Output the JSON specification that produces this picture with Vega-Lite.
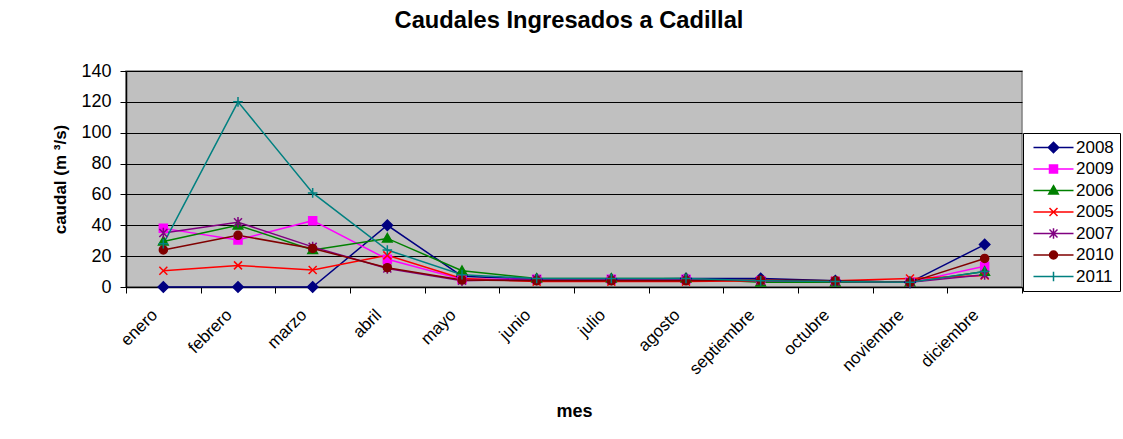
{
  "$schema": "https://vega.github.io/schema/vega-lite/v6.json",
  "autosize": "none",
  "width": 896,
  "height": 216,
  "padding": {"left": 126, "top": 71, "right": 101, "bottom": 152},
  "background": "white",
  "title": {"text": "Caudales Ingresados a Cadillal", "font": "Liberation Sans", "fontSize": 23.7, "fontWeight": "bold", "color": "black", "anchor": "middle", "baseline": "alphabetic", "offset": 10, "dx": -5},
  "config": {
    "font": "Liberation Sans",
    "view": {"fill": "#C0C0C0", "stroke": "#808080", "strokeWidth": 1.5},
    "axis": {"labelColor": "black", "titleColor": "black", "domainColor": "black", "tickColor": "black", "labelFont": "Liberation Sans", "titleFont": "Liberation Sans"}
  },
  "data": {"values": [
    {"mes": "enero", "year": "2008", "caudal": 0}, {"mes": "enero", "year": "2009", "caudal": 38}, {"mes": "enero", "year": "2006", "caudal": 29.5}, {"mes": "enero", "year": "2005", "caudal": 10.5}, {"mes": "enero", "year": "2007", "caudal": 35}, {"mes": "enero", "year": "2010", "caudal": 24}, {"mes": "enero", "year": "2011", "caudal": 28},
    {"mes": "febrero", "year": "2008", "caudal": 0}, {"mes": "febrero", "year": "2009", "caudal": 30.5}, {"mes": "febrero", "year": "2006", "caudal": 40}, {"mes": "febrero", "year": "2005", "caudal": 14}, {"mes": "febrero", "year": "2007", "caudal": 42}, {"mes": "febrero", "year": "2010", "caudal": 33.5}, {"mes": "febrero", "year": "2011", "caudal": 120},
    {"mes": "marzo", "year": "2008", "caudal": 0}, {"mes": "marzo", "year": "2009", "caudal": 43}, {"mes": "marzo", "year": "2006", "caudal": 24}, {"mes": "marzo", "year": "2005", "caudal": 11}, {"mes": "marzo", "year": "2007", "caudal": 26}, {"mes": "marzo", "year": "2010", "caudal": 25}, {"mes": "marzo", "year": "2011", "caudal": 61},
    {"mes": "abril", "year": "2008", "caudal": 40}, {"mes": "abril", "year": "2009", "caudal": 18}, {"mes": "abril", "year": "2006", "caudal": 31.5}, {"mes": "abril", "year": "2005", "caudal": 20.5}, {"mes": "abril", "year": "2007", "caudal": 12}, {"mes": "abril", "year": "2010", "caudal": 12.5}, {"mes": "abril", "year": "2011", "caudal": 24},
    {"mes": "mayo", "year": "2008", "caudal": 7}, {"mes": "mayo", "year": "2009", "caudal": 5}, {"mes": "mayo", "year": "2006", "caudal": 10.5}, {"mes": "mayo", "year": "2005", "caudal": 5.5}, {"mes": "mayo", "year": "2007", "caudal": 4}, {"mes": "mayo", "year": "2010", "caudal": 4.5}, {"mes": "mayo", "year": "2011", "caudal": 8},
    {"mes": "junio", "year": "2008", "caudal": 5}, {"mes": "junio", "year": "2009", "caudal": 5}, {"mes": "junio", "year": "2006", "caudal": 5.5}, {"mes": "junio", "year": "2005", "caudal": 3.5}, {"mes": "junio", "year": "2007", "caudal": 5}, {"mes": "junio", "year": "2010", "caudal": 4}, {"mes": "junio", "year": "2011", "caudal": 5.5},
    {"mes": "julio", "year": "2008", "caudal": 5}, {"mes": "julio", "year": "2009", "caudal": 5}, {"mes": "julio", "year": "2006", "caudal": 5.5}, {"mes": "julio", "year": "2005", "caudal": 3.5}, {"mes": "julio", "year": "2007", "caudal": 5}, {"mes": "julio", "year": "2010", "caudal": 4}, {"mes": "julio", "year": "2011", "caudal": 5.5},
    {"mes": "agosto", "year": "2008", "caudal": 5.5}, {"mes": "agosto", "year": "2009", "caudal": 5}, {"mes": "agosto", "year": "2006", "caudal": 5.5}, {"mes": "agosto", "year": "2005", "caudal": 3.5}, {"mes": "agosto", "year": "2007", "caudal": 5}, {"mes": "agosto", "year": "2010", "caudal": 4}, {"mes": "agosto", "year": "2011", "caudal": 5.5},
    {"mes": "septiembre", "year": "2008", "caudal": 5.5}, {"mes": "septiembre", "year": "2009", "caudal": 4}, {"mes": "septiembre", "year": "2006", "caudal": 3}, {"mes": "septiembre", "year": "2005", "caudal": 4}, {"mes": "septiembre", "year": "2007", "caudal": 4}, {"mes": "septiembre", "year": "2010", "caudal": 4.5}, {"mes": "septiembre", "year": "2011", "caudal": 4},
    {"mes": "octubre", "year": "2008", "caudal": 4}, {"mes": "octubre", "year": "2009", "caudal": 3.5}, {"mes": "octubre", "year": "2006", "caudal": 3}, {"mes": "octubre", "year": "2005", "caudal": 4}, {"mes": "octubre", "year": "2007", "caudal": 3.5}, {"mes": "octubre", "year": "2010", "caudal": 4}, {"mes": "octubre", "year": "2011", "caudal": 3.5},
    {"mes": "noviembre", "year": "2008", "caudal": 3}, {"mes": "noviembre", "year": "2009", "caudal": 3}, {"mes": "noviembre", "year": "2006", "caudal": 3}, {"mes": "noviembre", "year": "2005", "caudal": 5.5}, {"mes": "noviembre", "year": "2007", "caudal": 3}, {"mes": "noviembre", "year": "2010", "caudal": 3}, {"mes": "noviembre", "year": "2011", "caudal": 3},
    {"mes": "diciembre", "year": "2008", "caudal": 27.5}, {"mes": "diciembre", "year": "2009", "caudal": 13.5}, {"mes": "diciembre", "year": "2006", "caudal": 10}, {"mes": "diciembre", "year": "2005", "caudal": 7.5}, {"mes": "diciembre", "year": "2007", "caudal": 8}, {"mes": "diciembre", "year": "2010", "caudal": 18.5}, {"mes": "diciembre", "year": "2011", "caudal": 10}
  ]},
  "encoding": {
    "x": {"field": "mes", "type": "nominal", "sort": ["enero", "febrero", "marzo", "abril", "mayo", "junio", "julio", "agosto", "septiembre", "octubre", "noviembre", "diciembre"],
      "scale": {"type": "band", "paddingInner": 0, "paddingOuter": 0},
      "axis": {"title": "mes", "titleFontSize": 18, "titleFontWeight": "bold", "titlePadding": 25, "labelFontSize": 17, "labelAngle": 315, "labelAlign": "right", "labelBaseline": "middle", "labelPadding": 19, "labelOffset": -9, "tickBand": "extent", "tickSize": 6, "grid": false, "domainWidth": 1.5}},
    "y": {"field": "caudal", "type": "quantitative", "scale": {"domain": [0, 140], "nice": false},
      "axis": {"title": "caudal  (m ³/s)", "titleFontSize": 17, "titleFontWeight": "bold", "titlePadding": 11, "labelFontSize": 18, "labelPadding": 9, "tickSize": 6, "values": [0, 20, 40, 60, 80, 100, 120, 140], "grid": true, "gridColor": "black", "gridWidth": 1, "domainWidth": 1.5}}
  },
  "layer": [
    {
      "mark": {"type": "line", "strokeWidth": 1.5},
      "encoding": {
        "color": {"field": "year", "type": "nominal", "legend": null,
          "scale": {"domain": ["2008", "2009", "2006", "2005", "2007", "2010", "2011"], "range": ["#000080", "#FF00FF", "#008000", "#FF0000", "#800080", "#800000", "#008080"]}},
        "order": {"field": "year", "type": "nominal"}
      }
    },
    {
      "mark": {"type": "point", "filled": true, "size": 64, "strokeWidth": 1.5, "opacity": 1},
      "encoding": {
        "fill": {"field": "year", "type": "nominal", "legend": null,
          "scale": {"domain": ["2008", "2009", "2006", "2005", "2007", "2010", "2011"], "range": ["#000080", "#FF00FF", "#008000", "#FF0000", "#800080", "#800000", "#008080"]}},
        "stroke": {"field": "year", "type": "nominal", "legend": null,
          "scale": {"domain": ["2008", "2009", "2006", "2005", "2007", "2010", "2011"], "range": ["#000080", "#FF00FF", "#008000", "#FF0000", "#800080", "#800000", "#008080"]}},
        "shape": {"field": "year", "type": "nominal", "legend": null,
          "scale": {"domain": ["2008", "2009", "2006", "2005", "2007", "2010", "2011"], "range": [
            "M0,-1.3L1.3,0L0,1.3L-1.3,0Z",
            "M-1,-1H1V1H-1Z",
            "M0,-1.2L1.2,0.9H-1.2Z",
            "M-1,-1L1,1M-1,1L1,-1",
            "M-1,-1L1,1M-1,1L1,-1M0,-1.3V1.3",
            "M1,0A1,1,0,1,1,-1,0A1,1,0,1,1,1,0Z",
            "M-1.2,0H1.2M0,-1.2V1.2"]}}
      }
    },
    {
      "mark": {"type": "point", "filled": true, "size": 64, "strokeWidth": 1.5, "opacity": 0},
      "encoding": {
        "fill": {"field": "year", "type": "nominal",
          "scale": {"domain": ["2008", "2009", "2006", "2005", "2007", "2010", "2011"], "range": ["#000080", "#FF00FF", "#008000", "#FF0000", "#800080", "#800000", "#008080"]},
          "legend": {"title": null, "orient": "none", "legendX": 897, "legendY": 62, "strokeColor": "black", "fillColor": "white", "padding": 6, "symbolSize": 64, "symbolStrokeWidth": 1.5, "symbolOffset": 16, "labelOffset": 14, "labelFontSize": 17, "labelFont": "Liberation Sans", "labelColor": "black", "rowPadding": 3.5, "symbolOpacity": 1, "encode": {"symbols": {"update": {"opacity": {"value": 1}}}}}},
        "stroke": {"field": "year", "type": "nominal",
          "scale": {"domain": ["2008", "2009", "2006", "2005", "2007", "2010", "2011"], "range": ["#000080", "#FF00FF", "#008000", "#FF0000", "#800080", "#800000", "#008080"]},
          "legend": {"title": null, "orient": "none", "legendX": 897, "legendY": 62, "strokeColor": "black", "fillColor": "white", "padding": 6, "symbolSize": 64, "symbolStrokeWidth": 1.5, "symbolOffset": 16, "labelOffset": 14, "labelFontSize": 17, "labelFont": "Liberation Sans", "labelColor": "black", "rowPadding": 3.5, "symbolOpacity": 1, "encode": {"symbols": {"update": {"opacity": {"value": 1}}}}}},
        "shape": {"field": "year", "type": "nominal",
          "scale": {"domain": ["2008", "2009", "2006", "2005", "2007", "2010", "2011"], "range": [
            "M-5,0H5M0,-1.3L1.3,0L0,1.3L-1.3,0Z",
            "M-5,0H5M-1,-1H1V1H-1Z",
            "M-5,0H5M0,-1.2L1.2,0.9H-1.2Z",
            "M-5,0H5M-1,-1L1,1M-1,1L1,-1",
            "M-5,0H5M-1,-1L1,1M-1,1L1,-1M0,-1.3V1.3",
            "M-5,0H5M1,0A1,1,0,1,1,-1,0A1,1,0,1,1,1,0Z",
            "M-5,0H5M-1.2,0H1.2M0,-1.2V1.2"]},
          "legend": {"title": null, "orient": "none", "legendX": 897, "legendY": 62, "strokeColor": "black", "fillColor": "white", "padding": 6, "symbolSize": 64, "symbolStrokeWidth": 1.5, "symbolOffset": 16, "labelOffset": 14, "labelFontSize": 17, "labelFont": "Liberation Sans", "labelColor": "black", "rowPadding": 3.5, "symbolOpacity": 1, "encode": {"symbols": {"update": {"opacity": {"value": 1}}}}}}
      }
    }
  ],
  "resolve": {"scale": {"shape": "independent", "fill": "independent", "stroke": "independent"}}
}
